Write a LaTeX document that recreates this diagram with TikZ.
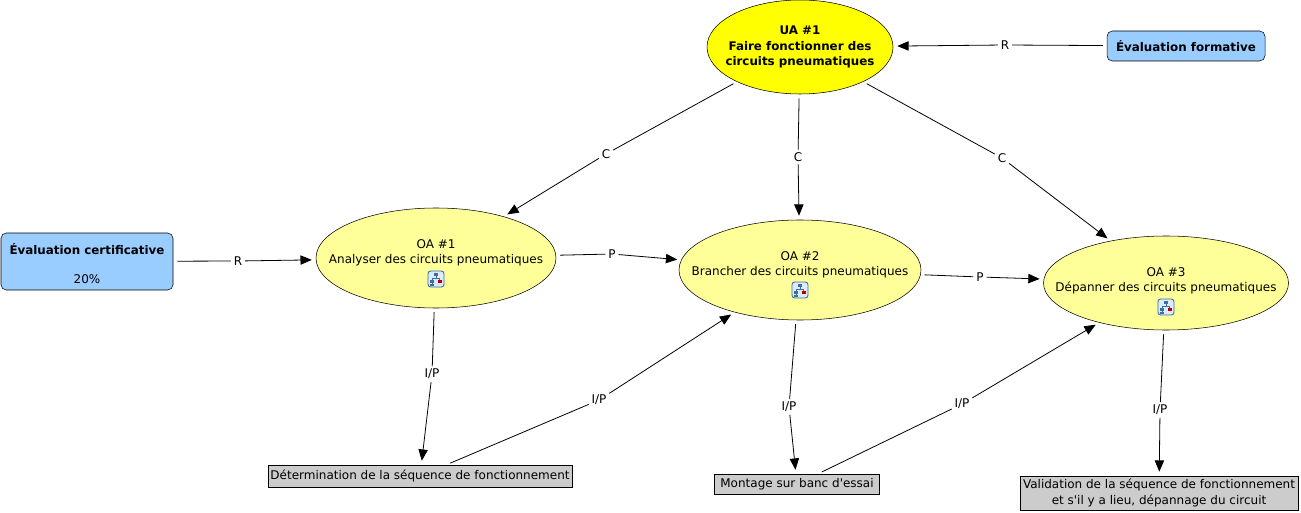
\documentclass[tikz,border=0pt]{standalone}
\usepackage{fontspec}
\setmainfont{DejaVu Sans}
\usetikzlibrary{shapes.geometric,arrows.meta}
\definecolor{uafill}{HTML}{FFFF00}
\definecolor{oafill}{HTML}{FFFF99}
\definecolor{evalfill}{HTML}{99CCFF}
\definecolor{boxfill}{HTML}{CCCCCC}
\definecolor{iconblue}{HTML}{3A6EA5}
\definecolor{iconfill}{HTML}{DDEBFA}
\tikzset{
  base/.style={font=\fontsize{9}{11.6}\selectfont, text=black},
  bfont/.style={font=\fontsize{8.9}{11.6}\selectfont\bfseries},
  uanode/.style={ellipse, draw=black, fill=uafill, minimum width=139.5pt, minimum height=70.5pt, inner sep=0pt},
  uatext/.style={bfont, align=center, inner sep=0pt},
  oanode/.style={ellipse, draw=black, fill=oafill, inner sep=0pt},
  oatext/.style={base, align=center, inner sep=0pt},
  evalbox/.style={rectangle, rounded corners=4, draw=black, fill=evalfill, align=center, inner sep=0pt},
  graybox/.style={rectangle, draw=black, fill=boxfill, align=center, inner sep=0pt, base},
  lab/.style={base, inner sep=2pt},
  seg/.style={draw=black, line width=0.6pt, shorten <=3pt},
  conn/.style={draw=black, line width=0.6pt, -{Triangle[length=8.5pt,width=7pt]}, shorten >=3pt},
  cmicon/.pic={
    \draw[iconblue, fill=iconfill, rounded corners=2, line width=0.7pt] (-8,-8) rectangle (8,8);
    \fill[iconblue] (-2,-6) rectangle (2,-2.8);
    \draw[iconblue, line width=0.7pt] (0,-2.8) -- (0,-0.5) (-3.8,-0.5) -- (3.8,-0.5) (-3.8,-0.5) -- (-3.8,1.3) (3.8,-0.5) -- (3.8,1.3);
    \fill[iconblue] (-5.8,1.3) rectangle (-1.8,4.3);
    \fill[red!70!black] (1.8,1.3) rectangle (5.8,4.3);
    \draw[iconblue, line width=0.7pt] (-3.8,4.3) -- (-3.8,5.3);
    \fill[iconblue] (-5.8,5.3) rectangle (-1.8,6.6);
  }
}
\begin{document}
\begin{tikzpicture}[x=0.75pt,y=-0.75pt]
\useasboundingbox (0,0) rectangle (1301,513);

% main nodes
\node[uanode] (ua) at (800,47) {};
\node[uatext] (uat) at (800,47) {UA \#1\\Faire fonctionner des\\circuits pneumatiques};
\node[evalbox, minimum width=118.5pt, minimum height=22.5pt, bfont] (ef) at (1186,46) {Évaluation formative};
\node[evalbox, minimum width=129pt, minimum height=42.75pt] (ec) at (87,261.5) {};
\node[bfont, inner sep=0pt] (ect) at (87,249) {Évaluation certificative};
\node[base, inner sep=0pt] (ecp) at (87,279) {20\%};

\node[oanode, minimum width=180pt, minimum height=75pt] (oa1) at (436,258) {};
\node[oatext] (oa1t) at (436,253) {OA \#1\\Analyser des circuits pneumatiques};
\pic at (436,279) {cmicon};

\node[oanode, minimum width=181.5pt, minimum height=75pt] (oa2) at (800,270) {};
\node[oatext] (oa2t) at (800,265) {OA \#2\\Brancher des circuits pneumatiques};
\pic at (800,290) {cmicon};

\node[oanode, minimum width=183.75pt, minimum height=70.5pt] (oa3) at (1166,283) {};
\node[oatext] (oa3t) at (1166,281) {OA \#3\\Dépanner des circuits pneumatiques};
\pic at (1166,307) {cmicon};

\node[graybox, minimum width=228pt, minimum height=16.5pt] (b1) at (420,476) {Détermination de la séquence de fonctionnement};
\node[graybox, minimum width=123.75pt, minimum height=15pt] (b2) at (797,484) {Montage sur banc d\textquotesingle essai};
\node[graybox, minimum width=208.5pt, minimum height=25.5pt] (b3) at (1159,493) {Validation de la séquence de fonctionnement\\et s\textquotesingle il y a lieu, dépannage du circuit};

% link labels
\node[lab] (c1) at (606,154) {C};
\node[lab] (c2) at (798,157) {C};
\node[lab] (c3) at (1002,158) {C};
\node[lab] (r1) at (1005,45) {R};
\node[lab] (r2) at (238,261) {R};
\node[lab] (p1) at (612,254) {P};
\node[lab] (p2) at (980,277) {P};
\node[lab] (ip1) at (432,374) {I/P};
\node[lab] (ip2) at (599,400) {I/P};
\node[lab] (ip3) at (789,407) {I/P};
\node[lab] (ip4) at (962,404) {I/P};
\node[lab] (ip5) at (1160,410) {I/P};

% connectors
\draw[seg] (ua) -- (c1); \draw[conn] (c1) -- (oa1);
\draw[seg] (ua) -- (c2); \draw[conn] (c2) -- (oa2);
\draw[seg] (ua) -- (c3); \draw[conn] (c3) -- (oa3);
\draw[seg] (ef) -- (r1); \draw[conn] (r1) -- (ua);
\draw[seg] (ec) -- (r2); \draw[conn] (r2) -- (oa1);
\draw[seg] (oa1) -- (p1); \draw[conn] (p1) -- (oa2);
\draw[seg] (oa2) -- (p2); \draw[conn] (p2) -- (oa3);
\draw[seg] (oa1) -- (ip1); \draw[conn] (ip1) -- (b1);
\draw[seg] (b1) -- (ip2); \draw[conn] (ip2) -- (oa2);
\draw[seg] (oa2) -- (ip3); \draw[conn] (ip3) -- (b2);
\draw[seg] (b2) -- (ip4); \draw[conn] (ip4) -- (oa3);
\draw[seg] (oa3) -- (ip5); \draw[conn] (ip5) -- (b3);
\end{tikzpicture}
\end{document}
